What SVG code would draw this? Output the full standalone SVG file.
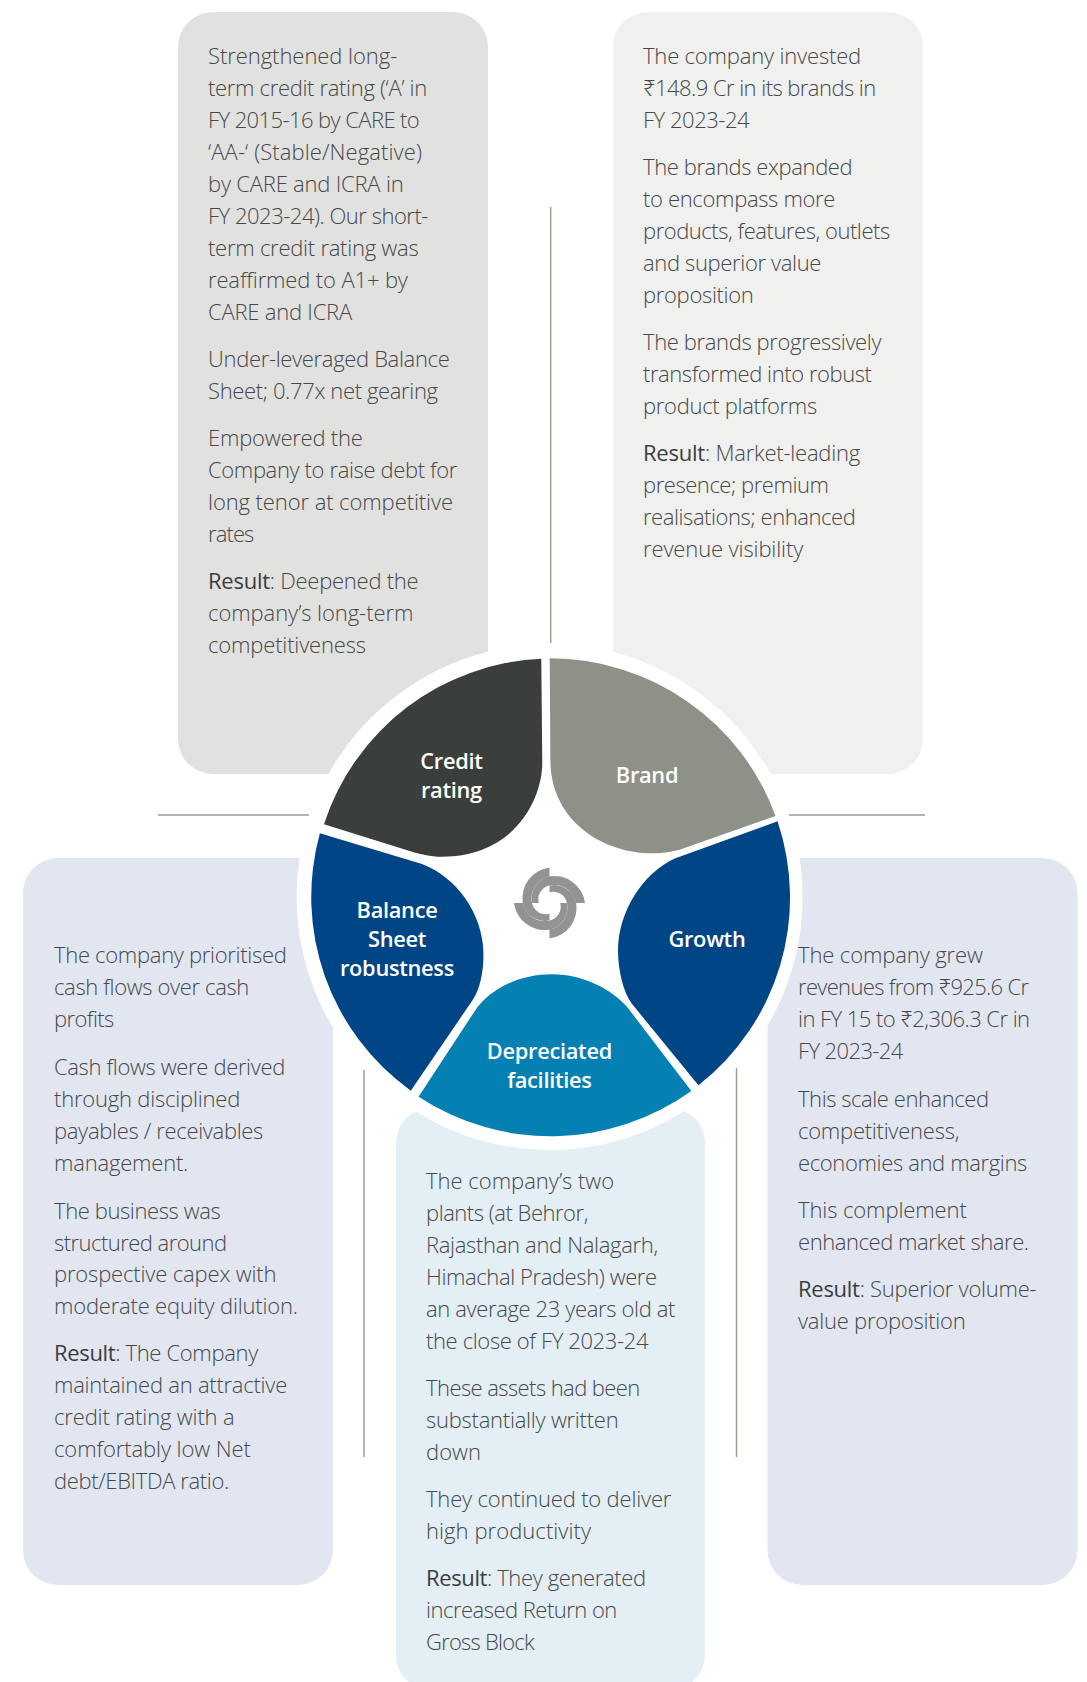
<svg xmlns="http://www.w3.org/2000/svg" width="1087" height="1682" viewBox="0 0 1087 1682">
<style>
.b{font-family:"Open Sans","Noto Sans","DejaVu Sans",sans-serif;font-weight:300;font-size:22px;letter-spacing:-0.36px;fill:#46484a}
.b tspan.r{font-weight:500;fill:#3a3c3d}
.l{font-family:"Open Sans","Noto Sans",sans-serif;font-weight:600;font-size:21.8px;letter-spacing:-0.3px;fill:#fff;text-anchor:middle}
.c{stroke:#9a9b90;stroke-width:1.4;fill:none}
</style>
<defs><path id="sw" fill="#939393" d="M0,-35.5A31 31 0 0 0-26.7,0A22 22 0 0 0 0,17.3L0,10.7A14 14 0 0 1-17.5,0A22 22 0 0 1 0,-26.5Z"/></defs>
<rect width="1087" height="1682" fill="#fff"/>
<g id="panel-credit">
<rect x="178" y="12" width="310" height="762" rx="35" fill="#e1e1df"/>
</g>
<g id="panel-brand">
<rect x="613" y="12" width="310" height="762" rx="35" fill="#f0f0ee"/>
</g>
<g id="panel-balance">
<rect x="23" y="858" width="310" height="727" rx="35" fill="#e2e6f1"/>
</g>
<g id="panel-growth">
<rect x="767.5" y="858" width="310" height="727" rx="35" fill="#e2e6f1"/>
</g>
<g id="panel-depreciated">
<rect x="396" y="1108" width="309" height="582" rx="35" fill="#e3eef5"/>
</g>
<g id="connectors">
<line class="c" x1="550.7" y1="207" x2="550.7" y2="643"/>
<line class="c" x1="158" y1="815" x2="309" y2="815"/>
<line class="c" x1="789" y1="815" x2="925" y2="815"/>
<line class="c" x1="364" y1="1070" x2="364" y2="1457"/>
<line class="c" x1="736.5" y1="1068" x2="736.5" y2="1457"/>
</g>
<circle cx="549.6" cy="897" r="253" fill="#fff"/>
<g id="logo" transform="translate(549.5,903)">
<use href="#sw"/><use href="#sw" transform="rotate(90)"/><use href="#sw" transform="rotate(180)"/><use href="#sw" transform="rotate(270)"/>
</g>
<g transform="translate(280,630) scale(0.338,0.33333)">
<path id="seg-credit" fill="#3b3f3b" d="M773,86L776,400C776,500 700,680 480,680C440,680 420,672 400,668L130,583A710,717 0 0 1 773,86Z"/>
<path id="seg-brand" fill="#8d9188" d="M798,85A710,717 0 0 1 1466,558L1180,660C1140,670 1110,670 1090,670C950,665 800,570 800,390Z"/>
<path id="seg-growth" fill="#004586" d="M1472,574A710,717 0 0 1 1238,1366L1040,1120C1015,1085 1000,1020 1000,960C1000,850 1070,730 1170,685Z"/>
<path id="seg-depreciated" fill="#0480b3" d="M1217,1383A710,717 0 0 1 410,1400L575,1145C620,1075 710,1033 805,1033C900,1033 985,1080 1030,1135Z"/>
<path id="seg-balance" fill="#004586" d="M387,1382A710,717 0 0 1 118,610L420,702C520,740 602,850 602,975C602,1030 590,1080 570,1110Z"/>
</g>
<g id="node-credit">
<text class="l" x="451.4" y="769">Credit</text><text class="l" x="451.4" y="798">rating</text>
<text class="b" x="208" y="64" textLength="188.9">Strengthened long-</text>
<text class="b" x="208" y="96" textLength="218.9">term credit rating (‘A’ in</text>
<text class="b" x="208" y="128" textLength="211.4">FY 2015-16 by CARE to</text>
<text class="b" x="208" y="160" textLength="213.5">‘AA-‘ (Stable/Negative)</text>
<text class="b" x="208" y="192" textLength="195.3">by CARE and ICRA in</text>
<text class="b" x="208" y="224" textLength="220">FY 2023-24). Our short-</text>
<text class="b" x="208" y="256" textLength="210.3">term credit rating was</text>
<text class="b" x="208" y="288" textLength="199.6">reaffirmed to A1+ by</text>
<text class="b" x="208" y="320" textLength="143.8">CARE and ICRA</text>
<text class="b" x="208" y="366.5" textLength="241.4">Under-leveraged Balance</text>
<text class="b" x="208" y="398.5" textLength="229.6">Sheet; 0.77x net gearing</text>
<text class="b" x="208" y="446" textLength="154.5">Empowered the</text>
<text class="b" x="208" y="478" textLength="249">Company to raise debt for</text>
<text class="b" x="208" y="510" textLength="244.7">long tenor at competitive</text>
<text class="b" x="208" y="542" textLength="46">rates</text>
<text class="b" x="208" y="588.5" textLength="210.3"><tspan class="r">Result</tspan>: Deepened the</text>
<text class="b" x="208" y="620.5" textLength="205">company’s long-term</text>
<text class="b" x="208" y="652.5" textLength="157.7">competitiveness</text>
</g>
<g id="node-brand">
<text class="l" x="647" y="783">Brand</text>
<text class="b" x="643" y="64" textLength="217.8">The company invested</text>
<text class="b" x="643" y="96" textLength="232.9">₹148.9 Cr in its brands in</text>
<text class="b" x="643" y="128" textLength="106.2">FY 2023-24</text>
<text class="b" x="643" y="174.5" textLength="209.3">The brands expanded</text>
<text class="b" x="643" y="206.5" textLength="192">to encompass more</text>
<text class="b" x="643" y="238.5" textLength="246.8">products, features, outlets</text>
<text class="b" x="643" y="270.5" textLength="178.1">and superior value</text>
<text class="b" x="643" y="302.5" textLength="110.5">proposition</text>
<text class="b" x="643" y="350" textLength="238.2">The brands progressively</text>
<text class="b" x="643" y="382" textLength="228.6">transformed into robust</text>
<text class="b" x="643" y="414" textLength="173.8">product platforms</text>
<text class="b" x="643" y="461" textLength="216.8"><tspan class="r">Result</tspan>: Market-leading</text>
<text class="b" x="643" y="493" textLength="185.6">presence; premium</text>
<text class="b" x="643" y="525" textLength="212.5">realisations; enhanced</text>
<text class="b" x="643" y="557" textLength="159.9">revenue visibility</text>
</g>
<g id="node-balance">
<text class="l" x="397" y="918">Balance</text><text class="l" x="397" y="947">Sheet</text><text class="l" x="397" y="976">robustness</text>
<text class="b" x="54" y="963" textLength="232.5">The company prioritised</text>
<text class="b" x="54" y="995" textLength="195">cash flows over cash</text>
<text class="b" x="54" y="1027" textLength="60">profits</text>
<text class="b" x="54" y="1075" textLength="231">Cash flows were derived</text>
<text class="b" x="54" y="1107" textLength="186">through disciplined</text>
<text class="b" x="54" y="1139" textLength="209">payables / receivables</text>
<text class="b" x="54" y="1171" textLength="134">management.</text>
<text class="b" x="54" y="1218.5" textLength="166.3">The business was</text>
<text class="b" x="54" y="1250.5" textLength="172.8">structured around</text>
<text class="b" x="54" y="1282" textLength="222.1">prospective capex with</text>
<text class="b" x="54" y="1314" textLength="243.6">moderate equity dilution.</text>
<text class="b" x="54" y="1361" textLength="203.9"><tspan class="r">Result</tspan>: The Company</text>
<text class="b" x="54" y="1393" textLength="232.9">maintained an attractive</text>
<text class="b" x="54" y="1425" textLength="180.3">credit rating with a</text>
<text class="b" x="54" y="1457" textLength="196.4">comfortably low Net</text>
<text class="b" x="54" y="1489" textLength="174.9">debt/EBITDA ratio.</text>
</g>
<g id="node-growth">
<text class="l" x="707" y="947">Growth</text>
<text class="b" x="798" y="963" textLength="184.5">The company grew</text>
<text class="b" x="798" y="995" textLength="230.7">revenues from ₹925.6 Cr</text>
<text class="b" x="798" y="1026.5" textLength="231.7">in FY 15 to ₹2,306.3 Cr in</text>
<text class="b" x="798" y="1058.5" textLength="105">FY 2023-24</text>
<text class="b" x="798" y="1107" textLength="190.7">This scale enhanced</text>
<text class="b" x="798" y="1139" textLength="161">competitiveness,</text>
<text class="b" x="798" y="1171" textLength="229">economies and margins</text>
<text class="b" x="798" y="1218" textLength="168.5">This complement</text>
<text class="b" x="798" y="1250" textLength="230.7">enhanced market share.</text>
<text class="b" x="798" y="1297" textLength="238.2"><tspan class="r">Result</tspan>: Superior volume-</text>
<text class="b" x="798" y="1329" textLength="167.4">value proposition</text>
</g>
<g id="node-depreciated">
<text class="l" x="549.4" y="1059">Depreciated</text><text class="l" x="549.4" y="1088">facilities</text>
<text class="b" x="426" y="1189" textLength="187.8">The company’s two</text>
<text class="b" x="426" y="1221" textLength="162">plants (at Behror,</text>
<text class="b" x="426" y="1253" textLength="231.8">Rajasthan and Nalagarh,</text>
<text class="b" x="426" y="1285" textLength="230.7">Himachal Pradesh) were</text>
<text class="b" x="426" y="1317" textLength="249">an average 23 years old at</text>
<text class="b" x="426" y="1349" textLength="222.1">the close of FY 2023-24</text>
<text class="b" x="426" y="1396" textLength="214">These assets had been</text>
<text class="b" x="426" y="1428" textLength="192.3">substantially written</text>
<text class="b" x="426" y="1460" textLength="54.7">down</text>
<text class="b" x="426" y="1507" textLength="245">They continued to deliver</text>
<text class="b" x="426" y="1539" textLength="164.7">high productivity</text>
<text class="b" x="426" y="1586" textLength="219.7"><tspan class="r">Result</tspan>: They generated</text>
<text class="b" x="426" y="1618" textLength="191">increased Return on</text>
<text class="b" x="426" y="1650" textLength="108.3">Gross Block</text>
</g>
</svg>
